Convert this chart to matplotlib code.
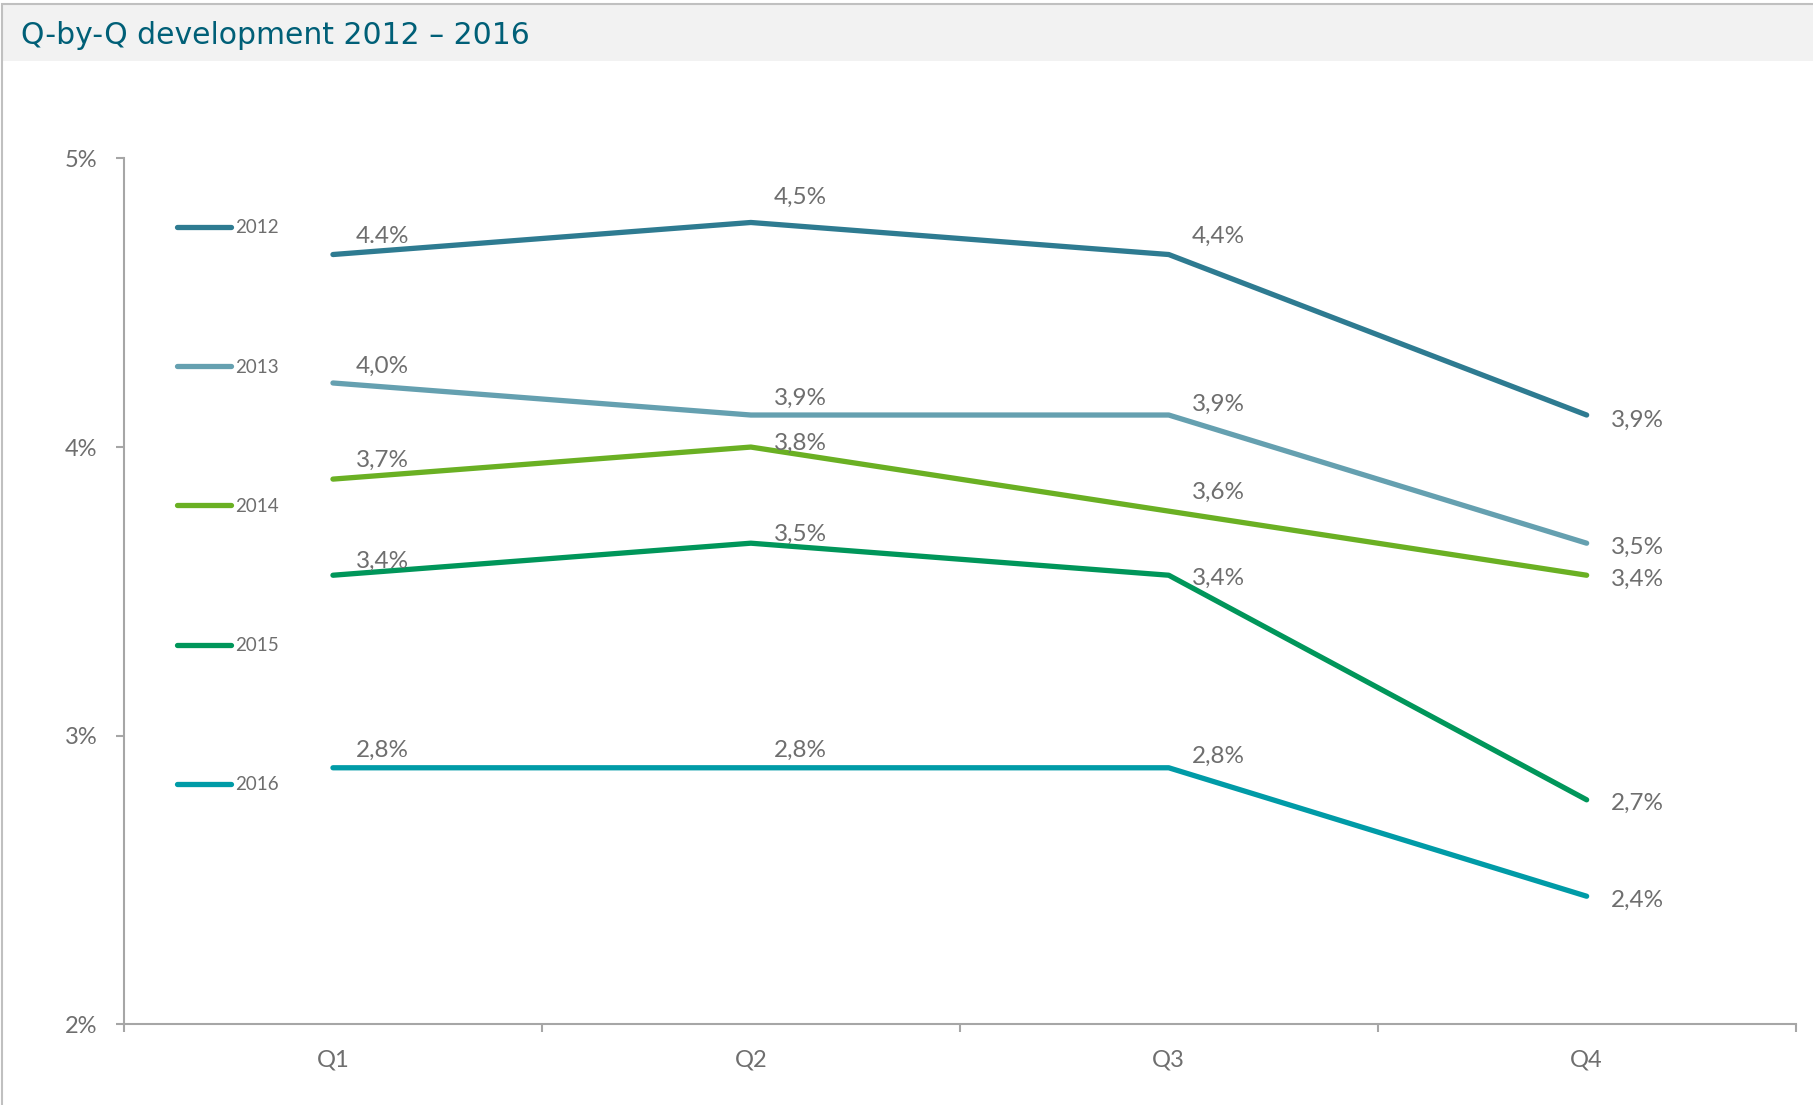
import matplotlib.pyplot as plt
from matplotlib.patches import Rectangle

# data
quarters = ['Q1', 'Q2', 'Q3', 'Q4']
years = ['2012', '2013', '2014', '2015', '2016']
line_2012 = [4.667, 4.778, 4.667, 4.111]
line_2013 = [4.222, 4.111, 4.111, 3.667]
line_2014 = [3.889, 4.000, 3.778, 3.556]
line_2015 = [3.556, 3.667, 3.556, 2.778]
line_2016 = [2.889, 2.889, 2.889, 2.444]
labels_2012 = ['4.4%', '4,5%', '4,4%', '3,9%']
labels_2013 = ['4,0%', '3,9%', '3,9%', '3,5%']
labels_2014 = ['3,7%', '3,8%', '3,6%', '3,4%']
labels_2015 = ['3,4%', '3,5%', '3,4%', '2,7%']
labels_2016 = ['2,8%', '2,8%', '2,8%', '2,4%']
y_ticks = [2, 3, 4, 5]

series = [line_2012, line_2013, line_2014, line_2015, line_2016]
series_labels = [labels_2012, labels_2013, labels_2014, labels_2015, labels_2016]
colors = ['#2e7b91', '#65a0b0', '#6ab023', '#00965a', '#009ba7']
# vertical label offsets (pixels) per point
label_dy = [[18, 25, 18, -5],
            [17, 17, 11, -4],
            [19, 4, 19, -4],
            [14, 9, -3, -4],
            [17, 17, 11, -4]]

GRAY = '#6e6e6e'
SPINE = '#a6a6a6'

fig = plt.figure(figsize=(18.13, 11.05), dpi=100, facecolor='white')
W, H = 1813, 1105

# title band + frame
fig.patches.append(Rectangle((3 / W, 1 - 61 / H), 1, 56 / H, transform=fig.transFigure,
                             facecolor='#f2f2f2', edgecolor='none', zorder=1))
fig.patches.append(Rectangle((2 / W, -0.01), 1, 1 - 4 / H + 0.01, transform=fig.transFigure,
                             facecolor='none', edgecolor='#c0c0c0', lw=1.5, zorder=3))
fig.text(21 / W, 1 - 35 / H, 'Q-by-Q development 2012 \u2013 2016', fontsize=21.5,
         family='DejaVu Sans', color='#005f77', va='center', ha='left')

ax = fig.add_axes([124 / W, 1 - 1024.4 / H, 1671.6 / W, 866 / H])
ax.set_zorder(2)
ax.patch.set_alpha(0)
x = list(range(len(quarters)))

lines = []
for vals, labs, dys, c, yr in zip(series, series_labels, label_dy, colors, years):
    ln, = ax.plot(x, vals, color=c, lw=3.8, solid_capstyle='round',
                  solid_joinstyle='round', label=yr)
    lines.append(ln)
    for i, (v, t, dy) in enumerate(zip(vals, labs, dys)):
        dx = 24 if i == 3 else 23
        ax.annotate(t, (i, v), xytext=(dx, dy), textcoords='offset pixels',
                    ha='left', va='center', fontsize=17.5, family='Lato', color=GRAY)

ax.set_xlim(-0.5, 3.5)
ax.set_ylim(2, 5)
ax.set_xticks(x)
ax.set_xticklabels(quarters, family='Lato', fontsize=17, color=GRAY)
ax.set_xticks([-0.5, 0.5, 1.5, 2.5, 3.5], minor=True)
ax.tick_params(axis='x', which='major', length=0, pad=18)
ax.tick_params(axis='x', which='minor', length=6, width=1.5, color=SPINE, direction='out')
ax.set_yticks(y_ticks)
ax.set_yticklabels([f'{t}%' for t in y_ticks], family='Lato', fontsize=17, color=GRAY)
ax.tick_params(axis='y', length=6, width=1.5, color=SPINE, direction='out', pad=13)

for s in ['top', 'right']:
    ax.spines[s].set_visible(False)
for s in ['left', 'bottom']:
    ax.spines[s].set_color(SPINE)
    ax.spines[s].set_linewidth(1.5)

leg = ax.legend(handles=lines, loc='upper left', bbox_to_anchor=(0.0317, 0.9295),
                frameon=False, borderpad=0, borderaxespad=0, handlelength=2.9,
                handletextpad=0.2, labelspacing=6.52,
                prop={'family': 'Lato', 'size': 13.5})
for t in leg.get_texts():
    t.set_color(GRAY)

fig.savefig('out.png', dpi=100)
